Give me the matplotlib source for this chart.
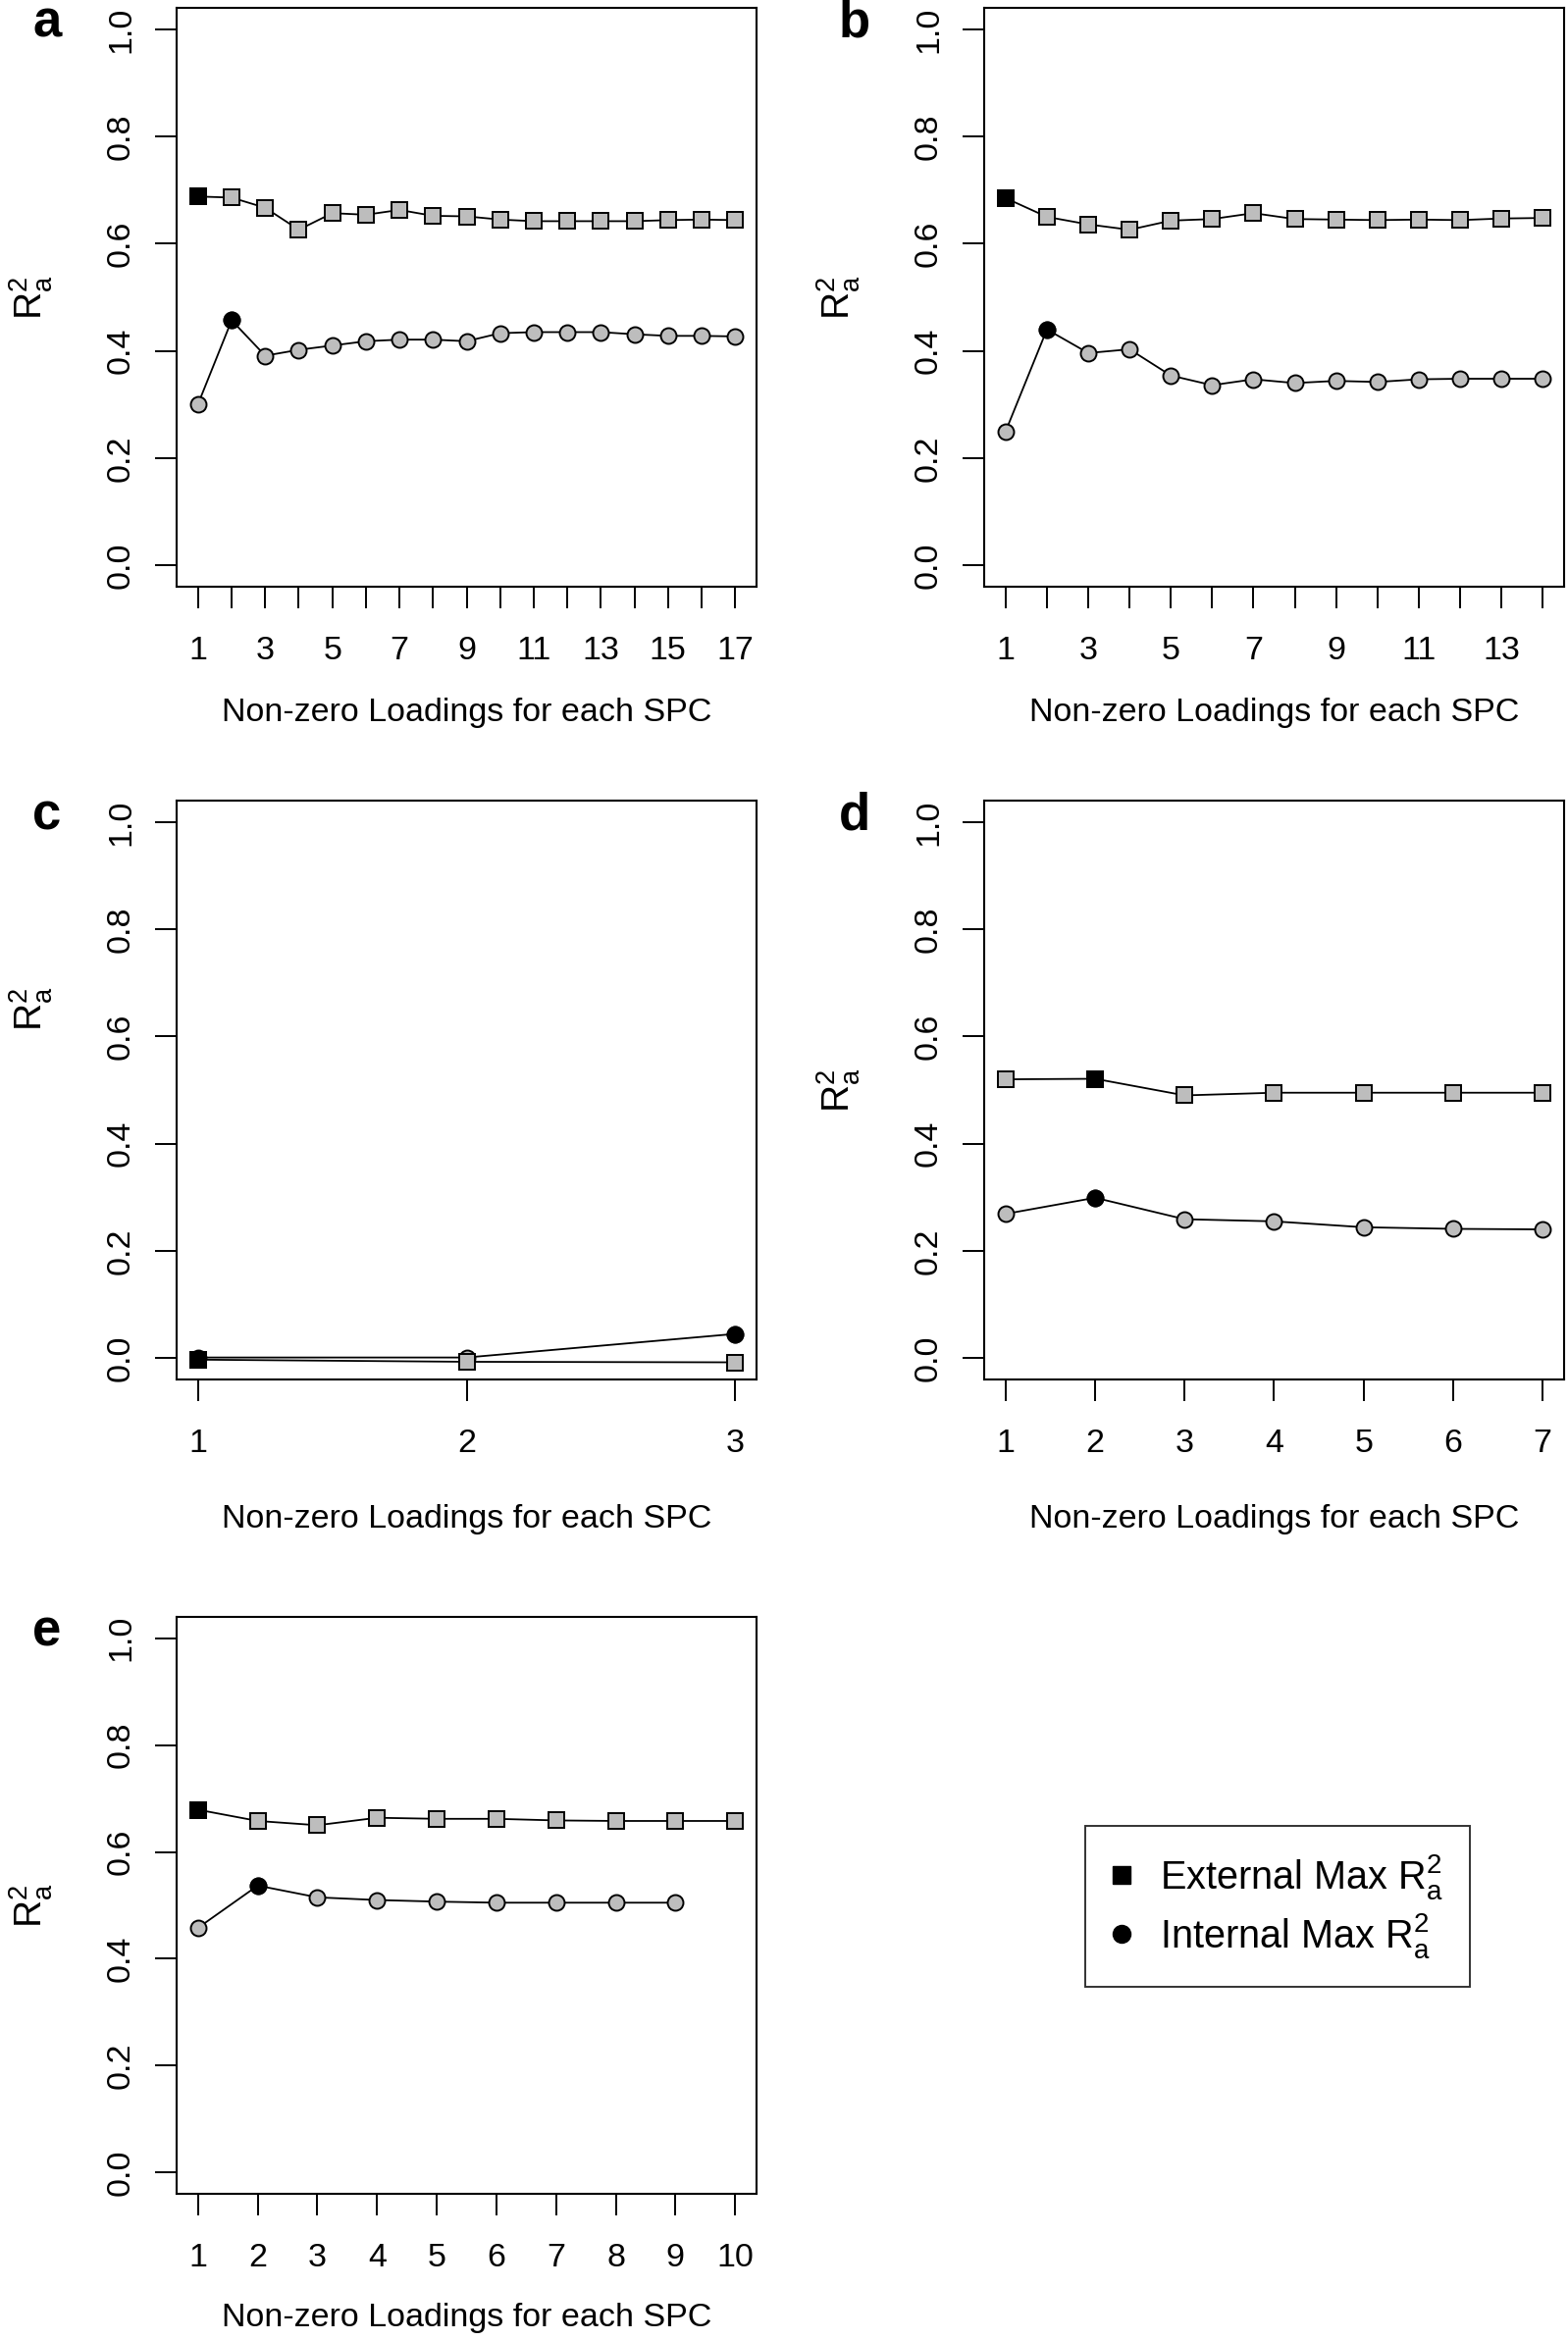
import numpy as np
import matplotlib
matplotlib.use("Agg")
import matplotlib.pyplot as plt
from matplotlib.lines import Line2D

plt.rcParams['font.family'] = ['Liberation Sans', 'DejaVu Sans']
plt.rcParams['mathtext.fontset'] = 'custom'
plt.rcParams['mathtext.rm'] = 'Liberation Sans'
plt.rcParams['mathtext.it'] = 'Liberation Sans:italic'

# ---------------- data ----------------
panel_letters = ['a', 'b', 'c', 'd', 'e']
a_ext = [0.688, 0.686, 0.667, 0.626, 0.657, 0.654, 0.663, 0.652, 0.651, 0.645,
         0.642, 0.642, 0.642, 0.642, 0.644, 0.645, 0.644]
a_int = [0.301, 0.457, 0.391, 0.402, 0.410, 0.418, 0.421, 0.421, 0.418, 0.433,
         0.435, 0.435, 0.435, 0.431, 0.428, 0.428, 0.427]
b_ext = [0.685, 0.650, 0.636, 0.626, 0.643, 0.646, 0.657, 0.646, 0.645, 0.644,
         0.645, 0.644, 0.647, 0.648]
b_int = [0.250, 0.440, 0.396, 0.403, 0.354, 0.336, 0.347, 0.340, 0.344, 0.342,
         0.347, 0.348, 0.348, 0.348]
c_ext = [-0.003, -0.007, -0.008]
c_int = [0.001, 0.001, 0.045]
d_ext = [0.520, 0.521, 0.490, 0.495, 0.495, 0.495, 0.495]
d_int = [0.269, 0.299, 0.259, 0.255, 0.244, 0.241, 0.240]
e_ext = [0.679, 0.658, 0.650, 0.664, 0.662, 0.662, 0.659, 0.658, 0.658, 0.658]
e_int = [0.458, 0.537, 0.515, 0.510, 0.507, 0.505, 0.505, 0.505, 0.505]
ext_series = [a_ext, b_ext, c_ext, d_ext, e_ext]
int_series = [a_int, b_int, c_int, d_int, e_int]
y_ticks = [0.0, 0.2, 0.4, 0.6, 0.8, 1.0]
y_ticklabels = ['0.0', '0.2', '0.4', '0.6', '0.8', '1.0']
x_label = 'Non-zero Loadings for each SPC'
y_label = r'$\mathrm{R}_\mathrm{a}^\mathrm{2}$'
legend_labels = [r'External Max $\mathrm{R}_\mathrm{a}^\mathrm{2}$',
                 r'Internal Max $\mathrm{R}_\mathrm{a}^\mathrm{2}$']

# ---------------- layout (pixels) ----------------
W, H = 1598, 2385
fig = plt.figure(figsize=(W / 100, H / 100), dpi=100)

boxes = [(180, 771, 8, 598), (1003, 1594, 8, 598),
         (180, 771, 816, 1406), (1003, 1594, 816, 1406),
         (180, 771, 1648, 2236)]
label_step = [2, 2, 1, 1, 1]
xlab_off = [129, 129, 143, 143, 127]
ylab_frac = [0.5, 0.5, 0.64, 0.5, 0.5]

GREY = '#bdbdbd'
FS = 24.5
MS = 11.5

for i, (l, r, t, b) in enumerate(boxes):
    ax = fig.add_axes([l / W, 1 - b / H, (r - l) / W, (b - t) / H])
    ext = ext_series[i]
    itn = int_series[i]
    xe = np.arange(1, len(ext) + 1)
    xi = np.arange(1, len(itn) + 1)
    n = max(len(ext), len(itn))
    # internal first, external on top
    ax.plot(xi, itn, '-', color='black', lw=1.3, zorder=2)
    ax.plot(xi, itn, 'o', ms=MS, mfc=GREY, mec='black', mew=1.4, zorder=3)
    ki = int(np.argmax(itn))
    ax.plot(xi[ki], itn[ki], 'o', ms=MS, mfc='black', mec='black', mew=1.4, zorder=4)
    ax.plot(xe, ext, '-', color='black', lw=1.3, zorder=5)
    ax.plot(xe, ext, 's', ms=MS, mfc=GREY, mec='black', mew=1.4, zorder=6)
    ke = int(np.argmax(ext))
    ax.plot(xe[ke], ext[ke], 's', ms=MS, mfc='black', mec='black', mew=1.4, zorder=7)

    rng = n - 1
    ax.set_xlim(1 - 0.04 * rng, n + 0.04 * rng)
    ax.set_ylim(-0.04, 1.04)
    ticks = np.arange(1, n + 1)
    ax.set_xticks(ticks)
    ax.set_xticklabels([str(v) if (v - 1) % label_step[i] == 0 else '' for v in ticks],
                       fontsize=FS)
    ax.set_yticks(y_ticks)
    ax.set_yticklabels(y_ticklabels, fontsize=FS, rotation=90, va='center')
    ax.tick_params(axis='both', direction='out', length=15.6, width=1.4, color='black')
    ax.tick_params(axis='x', pad=20.5)
    ax.tick_params(axis='y', pad=14.0)
    for s in ax.spines.values():
        s.set_linewidth(1.5)
        s.set_color('black')

    ax.set_xlabel(x_label, fontsize=FS)
    ax.xaxis.set_label_coords(0.5, -xlab_off[i] / (b - t))
    ax.xaxis.label.set_va('center')
    ax.set_ylabel(y_label, fontsize=28)
    ax.yaxis.set_label_coords(-148 / (r - l), ylab_frac[i])
    ax.yaxis.label.set_va('center')

    # panel letter
    fig.text((l - 132) / W, 1 - (t + 29) / H, panel_letters[i], fontsize=38,
             fontweight='bold', ha='center', va='baseline')

# legend
handles = [Line2D([], [], ls='none', marker='s', ms=13, mfc='black', mec='black'),
           Line2D([], [], ls='none', marker='o', ms=13, mfc='black', mec='black')]
leg = fig.legend(handles, legend_labels, loc='upper left',
                 bbox_to_anchor=(1106 / W, 1 - 1861 / H), borderaxespad=0,
                 fontsize=28.5, frameon=True, fancybox=False, edgecolor='black',
                 handlelength=0.5, handletextpad=0.74, borderpad=0.68,
                 labelspacing=0.25)
leg.get_frame().set_linewidth(1.4)

fig.savefig('out.png', dpi=100)
